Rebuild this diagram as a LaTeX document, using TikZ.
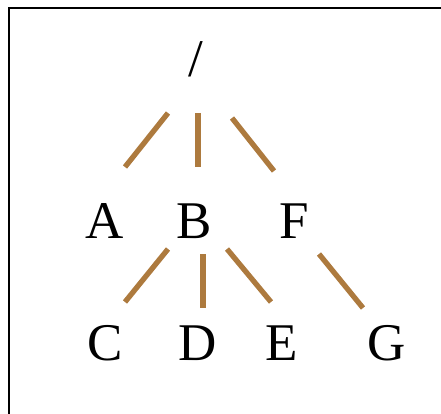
\documentclass[tikz,border=0pt]{standalone}
\usepackage{fontspec}
\setmainfont{Liberation Serif}
\definecolor{edgebrown}{RGB}{173,122,62}
\tikzset{
  lbl/.style={anchor=base, inner sep=0pt, font=\fontsize{53}{60}\selectfont},
  edge/.style={draw=edgebrown, line width=5.3pt},
  frame/.style={draw=black, line width=1.6pt}
}
\begin{document}
\begin{tikzpicture}[x=1pt,y=1pt]
\useasboundingbox (0,0) rectangle (441,-414);
\clip (0,0) rectangle (441,-414);
\draw[frame] (9,-430) -- (9,-8) -- (460,-8);
% nodes
\node[lbl] (root) at (195.5,-77) {/};
\node[lbl] (A) at (105,-238) {A};
\node[lbl] (B) at (194,-238) {B};
\node[lbl] (F) at (294.5,-238) {F};
\node[lbl] (C) at (105,-360) {C};
\node[lbl] (D) at (197.5,-360) {D};
\node[lbl] (E) at (281.5,-360) {E};
\node[lbl] (G) at (386.5,-360) {G};
% connector end points
\coordinate (rA1) at (168,-113); \coordinate (rA2) at (125,-167);
\coordinate (rB1) at (198,-113); \coordinate (rB2) at (198,-167);
\coordinate (rF1) at (232,-118); \coordinate (rF2) at (274,-171);
\coordinate (BC1) at (168,-249); \coordinate (BC2) at (125,-302);
\coordinate (BD1) at (203,-254); \coordinate (BD2) at (203,-308);
\coordinate (BE1) at (227,-249); \coordinate (BE2) at (271,-302);
\coordinate (FG1) at (319,-254); \coordinate (FG2) at (363,-308);
\draw[edge] (rA1) -- (rA2);
\draw[edge] (rB1) -- (rB2);
\draw[edge] (rF1) -- (rF2);
\draw[edge] (BC1) -- (BC2);
\draw[edge] (BD1) -- (BD2);
\draw[edge] (BE1) -- (BE2);
\draw[edge] (FG1) -- (FG2);
\end{tikzpicture}
\end{document}
